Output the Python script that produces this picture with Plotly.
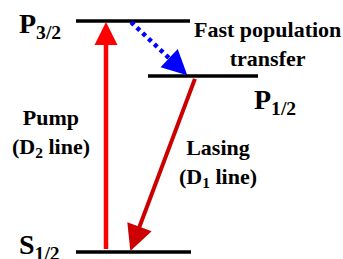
import numpy as np
import plotly.graph_objects as go

# ---------------- data ----------------
level_names = ["P<sub>3/2</sub>", "P<sub>1/2</sub>", "S<sub>1/2</sub>"]
level_energy = [1.0, 0.762, 0.0]          # relative energy (P3/2 = 1)
level_x_start = [76, 148, 76]
level_x_end = [190, 258, 191]

transition_names = ["Pump<br>(D<sub>2</sub> line)",
                    "Lasing<br>(D<sub>1</sub> line)",
                    "Fast population<br>transfer"]
transition_from = [2, 1, 0]               # level index
transition_to = [0, 2, 1]
transition_x_from = [106, 196, 130]
transition_x_to = [106, 130, 188]

# ---------------- styling / geometry ----------------
W, H = 343, 259
PX_PER_E = 231.0            # pixels per energy unit
Y0 = 252.0                  # pixel row of E = 0
y_lo = -(H - Y0) / PX_PER_E
y_hi = Y0 / PX_PER_E


def ypx(py):
    """pixel row -> data value"""
    return (Y0 - py) / PX_PER_E


FONT = "Liberation Serif"

fig = go.Figure()

# energy levels
for name, e, x0, x1 in zip(level_names, level_energy, level_x_start, level_x_end):
    fig.add_trace(go.Scatter(x=[x0, x1], y=[e, e], mode="lines",
                             line=dict(color="black", width=3.5),
                             hoverinfo="skip", showlegend=False))

# level labels
label_pos = [(17, 25), (252, 101), (17, 246)]
for name, (lx, ly) in zip(level_names, label_pos):
    fig.add_annotation(x=lx, y=ypx(ly), xref="x", yref="y", text="<b>%s</b>" % name,
                       showarrow=False, xanchor="left", yanchor="middle",
                       font=dict(family=FONT, size=28, color="black"))

colors = ["#ff0000", "#cc0000", "#0000ff"]
widths = [4.5, 4.0, 4.0]
scales = [4.6, 5.2, 5.0]   # arrow head scale (px per unit of head path)

for i in range(3):
    xs = transition_x_from[i]
    xe = transition_x_to[i]
    es = level_energy[transition_from[i]]
    ee = level_energy[transition_to[i]]
    ps = np.array([xs, es * PX_PER_E])
    pe = np.array([xe, ee * PX_PER_E])
    d = (pe - ps) / np.linalg.norm(pe - ps)
    tip = pe - d * 1.0
    start = ps + d * 1.5
    if i < 2:
        tail = start
    else:
        base = tip - d * 5 * scales[i]
        fig.add_trace(go.Scatter(x=[start[0], base[0] + d[0] * 6],
                                 y=[start[1] / PX_PER_E, (base[1] + d[1] * 6) / PX_PER_E],
                                 mode="lines",
                                 line=dict(color=colors[i], width=4.5, dash="4px,4px"),
                                 hoverinfo="skip", showlegend=False))
        tail = tip - d * 10
    fig.add_annotation(x=tip[0], y=tip[1] / PX_PER_E,
                       ax=tail[0], ay=tail[1] / PX_PER_E,
                       xref="x", yref="y", axref="x", ayref="y",
                       text="", showarrow=True, arrowhead=2,
                       arrowwidth=widths[i], arrowsize=scales[i] / widths[i],
                       arrowcolor=colors[i], standoff=0, startstandoff=0)

# transition labels
tlabel_pos = [(51, 133), (218, 163), (267, 44)]
for name, (lx, ly) in zip(transition_names, tlabel_pos):
    fig.add_annotation(x=lx, y=ypx(ly), xref="x", yref="y", text="<b>%s</b>" % name,
                       showarrow=False, xanchor="center", yanchor="middle",
                       font=dict(family=FONT, size=22, color="black"))

fig.update_layout(width=W, height=H, margin=dict(l=0, r=0, t=0, b=0),
                  paper_bgcolor="white", plot_bgcolor="white",
                  xaxis=dict(range=[0, W], visible=False, fixedrange=True),
                  yaxis=dict(range=[y_lo, y_hi], visible=False, fixedrange=True),
                  showlegend=False)

fig.write_html("out.html", config={"displayModeBar": False},
               post_script="document.body.style.margin='0';document.body.style.overflow='hidden';")
